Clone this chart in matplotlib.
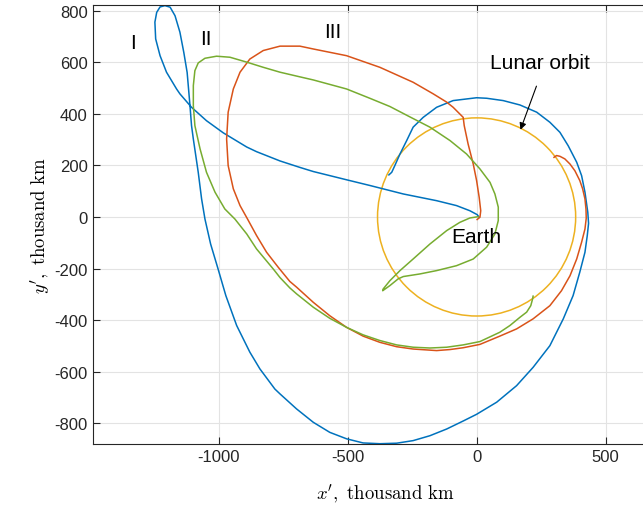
import matplotlib
matplotlib.use("Agg")
import matplotlib.pyplot as plt
from matplotlib.patches import Circle

plt.rcParams.update({"font.family": "Liberation Sans", "font.size": 12,
                     "mathtext.fontset": "cm", "axes.unicode_minus": False})

# trajectories in the rotating frame, thousand km
traj1_x = [10, 2, -26, -78, -155, -284, -414, -504, -633, -685, -762, -853, -891,
           -982, -1047, -1105, -1150, -1163, -1202, -1227, -1244, -1247, -1240,
           -1227, -1208, -1188, -1169, -1150, -1135, -1122, -1116, -1111, -1105,
           -1098, -1079, -1066, -1053, -1031, -1002, -972, -930, -879, -840, -782,
           -762, -698, -633, -569, -504, -440, -375, -310, -246, -181, -116, -52, 0,
           78, 155, 219, 284, 336, 374, 400, 420, 429, 434, 431, 420, 407, 388, 355,
           323, 284, 233, 168, 103, 39, 0, -91, -155, -207, -246, -271, -297, -317,
           -329, -340]
traj1_y = [-1, 9, 24, 44, 63, 89, 122, 144, 176, 192, 217, 253, 271, 326, 373, 425,
           477, 496, 561, 625, 690, 755, 793, 814, 819, 813, 780, 716, 638, 560, 490,
           431, 354, 302, 173, 70, -8, -105, -202, -305, -421, -524, -589, -667, -686,
           -744, -796, -835, -860, -876, -879, -877, -867, -848, -822, -791, -765,
           -718, -654, -583, -499, -395, -305, -214, -137, -72, -25, 18, 96, 160, 212,
           276, 328, 367, 406, 434, 451, 460, 462, 451, 425, 386, 348, 296, 244, 199,
           173, 163]

traj2_x = [6, -26, -65, -116, -181, -246, -297, -336, -362, -364, -336, -304, -284,
           -220, -155, -78, -13, 39, 71, 84, 84, 71, 52, 13, -39, -103, -181, -259,
           -336, -414, -504, -633, -685, -762, -827, -891, -956, -1008, -1053, -1079,
           -1092, -1098, -1098, -1092, -1072, -1047, -1014, -976, -937, -891, -853,
           -788, -762, -724, -698, -633, -569, -504, -440, -375, -310, -246, -181,
           -116, -52, 13, 90, 129, 168, 194, 210, 217, 219]
traj2_y = [1, -4, -21, -53, -105, -163, -208, -247, -279, -286, -266, -240, -231,
           -221, -208, -189, -163, -117, -66, -14, 38, 89, 134, 186, 244, 296, 348,
           388, 428, 460, 496, 531, 543, 561, 580, 600, 619, 623, 615, 597, 567, 509,
           431, 354, 264, 173, 96, 31, -8, -66, -124, -202, -235, -275, -298, -350,
           -393, -428, -457, -479, -496, -505, -508, -505, -496, -483, -447, -421,
           -389, -369, -344, -318, -307]

traj3_x = [2, 13, 16, 10, 0, -13, -33, -48, -52, -78, -91, -116, -168, -246, -375,
           -504, -633, -685, -762, -827, -879, -917, -943, -963, -969, -963, -943,
           -917, -888, -853, -814, -769, -724, -698, -633, -569, -504, -440, -375,
           -310, -246, -155, -103, -52, 13, 90, 155, 219, 284, 329, 362, 388, 407,
           420, 425, 424, 420, 411, 400, 381, 362, 342, 323, 310, 300]
traj3_y = [-10, -1, 24, 76, 141, 205, 283, 354, 386, 412, 425, 445, 477, 522, 580,
           625, 651, 662, 662, 645, 612, 561, 496, 406, 302, 199, 109, 44, -8, -72,
           -137, -195, -250, -272, -331, -383, -428, -462, -486, -503, -512, -518,
           -514, -507, -494, -462, -434, -395, -344, -286, -228, -163, -98, -47, -5,
           30, 70, 109, 141, 179, 205, 225, 235, 238, 231]

moon_r = 384
labels = ["I", "II", "III"]
label_xy = [(-1332, 678), (-1048, 690), (-556, 717)]

fig = plt.figure(figsize=(6.43, 5.10), dpi=100)
ax = fig.add_axes([0.1442, 0.127, 0.8558, 0.862])

ax.plot(traj1_x, traj1_y, color="#0072BD", lw=1.1)
ax.plot(traj3_x, traj3_y, color="#D95319", lw=1.1)
ax.add_patch(Circle((0, 0), moon_r, fill=False, ec="#EDB120", lw=1.1))
ax.plot(traj2_x, traj2_y, color="#77AC30", lw=1.1)

for s, (x, y) in zip(labels, label_xy):
    ax.text(x, y, s, ha="center", va="center", fontsize=15)
ax.text(0, -74, "Earth", ha="center", va="center", fontsize=15)
ax.text(245, 600, "Lunar orbit", ha="center", va="center", fontsize=15)
ax.annotate("", xy=(170, 338), xytext=(232, 507),
            arrowprops=dict(arrowstyle="-|>", color="k", lw=0.8,
                            shrinkA=0, shrinkB=0, mutation_scale=10))

ax.set_xlim(-1488, 645)
ax.set_ylim(-881, 823)
ax.set_xticks([-1000, -500, 0, 500])
ax.set_yticks(range(-800, 801, 200))
ax.grid(True, color="#e3e3e3", lw=0.8)
ax.set_axisbelow(True)
ax.tick_params(direction="in", top=True, right=False, length=5, colors="#262626",
               labelsize=12)
for sp in ax.spines.values():
    sp.set_color("#262626")
ax.spines["right"].set_visible(False)
ax.set_xlabel(r"$x',\ \mathrm{thousand\ km}$", fontsize=13.5)
ax.set_ylabel(r"$y',\ \mathrm{thousand\ km}$", fontsize=13.5, labelpad=2)
ax.xaxis.set_label_coords(0.531, -0.085)

fig.savefig("out.png", dpi=100)
